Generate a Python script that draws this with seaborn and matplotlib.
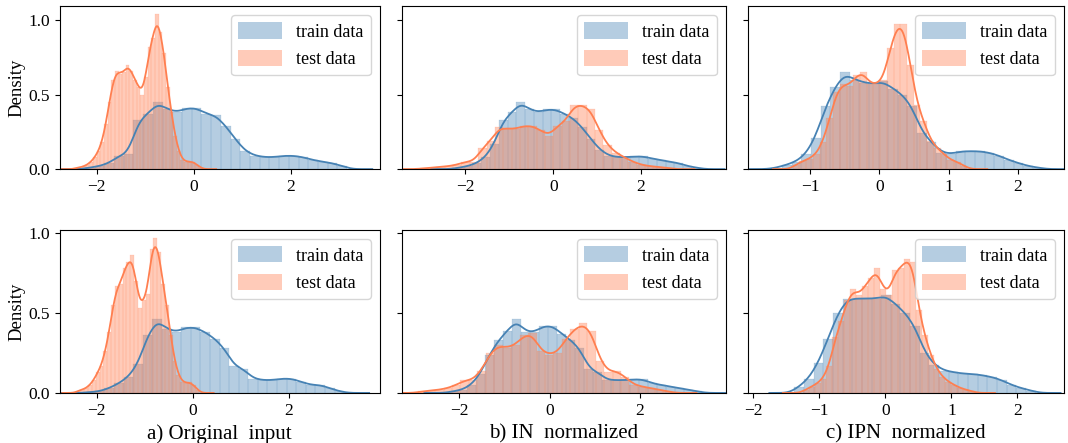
import numpy as np
import matplotlib
matplotlib.use("Agg")
import matplotlib.pyplot as plt
import seaborn as sns
from matplotlib.colors import to_rgba
from matplotlib.patches import Patch

# every series: first bin edge, bin width, density of each bin

# a) original input, top row
a_top_train_start, a_top_train_width = -2.243, 0.2
a_top_train = [0.01, 0.02, 0.04, 0.09, 0.10, 0.33, 0.37, 0.45, 0.40, 0.38,
               0.41, 0.41, 0.37, 0.36, 0.29, 0.20, 0.12, 0.09, 0.08, 0.08,
               0.09, 0.09, 0.08, 0.06, 0.05, 0.04, 0.02]
a_top_test_start, a_top_test_width = -2.45, 0.075
a_top_test = [0.01, 0.01, 0.02, 0.03, 0.05, 0.08, 0.12, 0.18, 0.30, 0.45,
              0.60, 0.66, 0.64, 0.65, 0.70, 0.66, 0.60, 0.55, 0.50, 0.62,
              0.82, 0.88, 1.04, 0.92, 0.78, 0.55, 0.38, 0.22, 0.12, 0.06,
              0.05, 0.05, 0.05, 0.03, 0.01]

# b) IN normalized, top row
b_top_train_start, b_top_train_width = -2.24, 0.2
b_top_train = [0.01, 0.02, 0.04, 0.08, 0.17, 0.33, 0.38, 0.45, 0.40, 0.38,
               0.40, 0.40, 0.37, 0.34, 0.28, 0.20, 0.13, 0.09, 0.08, 0.08,
               0.085, 0.085, 0.07, 0.06, 0.05, 0.04, 0.02, 0.01]
b_top_test_start, b_top_test_width = -3.04, 0.19
b_top_test = [0.005, 0.01, 0.015, 0.02, 0.03, 0.05, 0.05, 0.14, 0.19, 0.28,
              0.27, 0.27, 0.29, 0.29, 0.26, 0.22, 0.29, 0.32, 0.43, 0.43,
              0.40, 0.26, 0.16, 0.11, 0.08, 0.05, 0.03, 0.02, 0.015, 0.01]

# c) IPN normalized, top row
c_top_train_start, c_top_train_width = -1.548, 0.1395
c_top_train = [0.01, 0.03, 0.05, 0.10, 0.21, 0.42, 0.55, 0.65, 0.60, 0.58,
               0.57, 0.59, 0.54, 0.50, 0.42, 0.24, 0.18, 0.11, 0.10, 0.12,
               0.12, 0.12, 0.11, 0.09, 0.06, 0.04, 0.02, 0.01]
c_top_test_start, c_top_test_width = -1.251, 0.097
c_top_test = [0.03, 0.055, 0.07, 0.10, 0.18, 0.34, 0.52, 0.57, 0.56, 0.63,
              0.65, 0.57, 0.57, 0.60, 0.81, 0.97, 0.97, 0.70, 0.43, 0.32,
              0.19, 0.14, 0.10, 0.06, 0.05, 0.02]

# a) original input, bottom row
a_bot_train_start, a_bot_train_width = -2.24, 0.2
a_bot_train = [0.005, 0.01, 0.03, 0.06, 0.10, 0.18, 0.36, 0.46, 0.40, 0.38,
               0.41, 0.41, 0.38, 0.34, 0.28, 0.17, 0.15, 0.09, 0.08, 0.08,
               0.09, 0.09, 0.07, 0.05, 0.05, 0.03, 0.01]
a_bot_test_start, a_bot_test_width = -2.42, 0.08
a_bot_test = [0.015, 0.02, 0.03, 0.05, 0.08, 0.13, 0.17, 0.26, 0.38, 0.55,
              0.67, 0.68, 0.78, 0.82, 0.86, 0.70, 0.53, 0.58, 0.62, 0.90,
              0.97, 0.88, 0.68, 0.55, 0.36, 0.20, 0.11, 0.07, 0.06, 0.07,
              0.05, 0.02]

# b) IN normalized, bottom row
b_bot_train_start, b_bot_train_width = -2.23, 0.2
b_bot_train = [0.01, 0.02, 0.05, 0.12, 0.24, 0.33, 0.39, 0.46, 0.38, 0.38,
               0.42, 0.42, 0.37, 0.33, 0.28, 0.15, 0.13, 0.08, 0.08, 0.08,
               0.085, 0.085, 0.06, 0.05, 0.04, 0.03, 0.02, 0.01]
b_bot_test_start, b_bot_test_width = -2.906, 0.187
b_bot_test = [0.01, 0.015, 0.02, 0.03, 0.05, 0.08, 0.08, 0.14, 0.25, 0.30,
              0.28, 0.30, 0.36, 0.375, 0.26, 0.24, 0.25, 0.34, 0.40, 0.435,
              0.39, 0.20, 0.13, 0.14, 0.10, 0.05, 0.04, 0.03, 0.02, 0.01]

# c) IPN normalized, bottom row
c_bot_train_start, c_bot_train_width = -1.376, 0.146
c_bot_train = [0.04, 0.09, 0.19, 0.34, 0.50, 0.59, 0.59, 0.59, 0.59, 0.61,
               0.555, 0.50, 0.42, 0.25, 0.175, 0.14, 0.13, 0.12, 0.12, 0.11,
               0.10, 0.08, 0.05, 0.03, 0.015]
c_bot_test_start, c_bot_test_width = -1.25, 0.09
c_bot_test = [0.02, 0.04, 0.06, 0.09, 0.17, 0.35, 0.45, 0.58, 0.65, 0.61,
              0.67, 0.72, 0.78, 0.65, 0.61, 0.77, 0.78, 0.84, 0.82, 0.52,
              0.36, 0.24, 0.15, 0.10, 0.07, 0.05, 0.03, 0.02, 0.01]

xlabels = ["a) Original  input", "b) IN  normalized", "c) IPN  normalized"]
train_color = "steelblue"
test_color = "coral"

plt.rcParams["font.family"] = ["Liberation Serif", "DejaVu Serif"]


def dist(ax, start, width, heights, color, bw):
    heights = np.array(heights)
    edges = start + width * np.arange(len(heights) + 1)
    centers = (edges[:-1] + edges[1:]) / 2
    # heights are already densities, so sum the weights per bin as they are
    sns.histplot(x=centers, weights=heights, bins=list(edges), stat="count",
                 kde=True, kde_kws={"bw_method": bw, "cut": 3},
                 line_kws={"lw": 1.3}, color=color, alpha=0.4,
                 edgecolor=to_rgba(color, 0.3), linewidth=0.3, ax=ax)


fig, axes = plt.subplots(2, 3, figsize=(10.68, 4.43), dpi=100, sharey="row",
                         gridspec_kw={"width_ratios": [320, 324, 316]})
fig.subplots_adjust(left=0.056, right=0.996, top=0.986, bottom=0.113,
                    wspace=0.069, hspace=0.374)

series = [
    (a_top_train_start, a_top_train_width, a_top_train, a_top_test_start, a_top_test_width, a_top_test),
    (b_top_train_start, b_top_train_width, b_top_train, b_top_test_start, b_top_test_width, b_top_test),
    (c_top_train_start, c_top_train_width, c_top_train, c_top_test_start, c_top_test_width, c_top_test),
    (a_bot_train_start, a_bot_train_width, a_bot_train, a_bot_test_start, a_bot_test_width, a_bot_test),
    (b_bot_train_start, b_bot_train_width, b_bot_train, b_bot_test_start, b_bot_test_width, b_bot_test),
    (c_bot_train_start, c_bot_train_width, c_bot_train, c_bot_test_start, c_bot_test_width, c_bot_test),
]
train_bw = [0.13, 0.13, 0.14, 0.13, 0.13, 0.14]
test_bw = [0.14, 0.13, 0.15, 0.15, 0.13, 0.15]
xlims = [(-2.76, 3.83), (-3.45, 3.93), (-1.9, 2.66),
         (-2.77, 3.9), (-3.27, 3.9), (-2.08, 2.7)]

for k, ax in enumerate(axes.flat):
    s = series[k]
    dist(ax, s[0], s[1], s[2], train_color, train_bw[k])
    dist(ax, s[3], s[4], s[5], test_color, test_bw[k])
    ax.set_xlim(*xlims[k])
    ax.tick_params(labelsize=12.5)
    ax.set_ylabel("Density" if k % 3 == 0 else "", fontsize=13.5, labelpad=2)
    ax.set_xlabel(xlabels[k % 3] if k >= 3 else "", fontsize=15)
    handles = [Patch(facecolor=to_rgba(train_color, 0.4), edgecolor="none"),
               Patch(facecolor=to_rgba(test_color, 0.4), edgecolor="none")]
    ax.legend(handles, ["train data", "test data"], loc="upper right",
              fontsize=13, handlelength=2.4, handleheight=1.0)

for ax in axes.flat:
    ax.set_yticks([0.0, 0.5, 1.0])

fig.savefig("out.png", dpi=100)
